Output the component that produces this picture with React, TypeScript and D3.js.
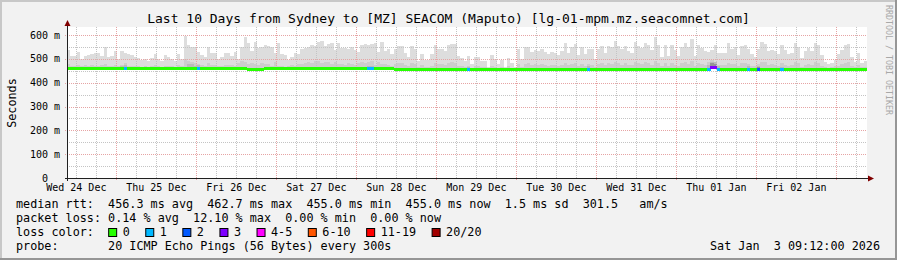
import React from 'react';
import * as d3 from 'd3';

const W = 897;
const H = 260;
const FONT = '"DejaVu Sans Mono", monospace';

const title = 'Last 10 Days from Sydney to [MZ] SEACOM (Maputo) [lg-01-mpm.mz.seacomnet.com]';
const startTime = new Date(2025, 11, 24, 9, 12);
const endTime = new Date(2026, 0, 3, 9, 12);
const yTicks = [0, 100, 200, 300, 400, 500, 600];
const yMinor = [50, 150, 250, 350, 450, 550];

// highest ping per hourly bin (ms)
const smokeTop = [
  537, 512, 512, 529, 498, 512, 515, 520, 523, 526,
  512, 548, 509, 512, 534, 498, 534, 523, 520, 518,
  509, 504, 495, 498, 492, 502, 520, 498, 492, 515,
  509, 498, 492, 520, 501, 596, 558, 551, 551, 529,
  515, 506, 548, 523, 523, 498, 506, 526, 523, 512,
  529, 498, 551, 590, 565, 534, 572, 544, 551, 558,
  554, 551, 526, 565, 520, 516, 495, 509, 526, 520,
  540, 544, 551, 558, 554, 572, 576, 554, 562, 565,
  537, 565, 544, 544, 540, 548, 537, 530, 558, 562,
  558, 562, 565, 530, 572, 534, 540, 520, 540, 554,
  554, 526, 509, 554, 540, 492, 520, 495, 495, 520,
  558, 540, 540, 534, 558, 562, 562, 512, 502, 492,
  512, 477, 509, 506, 492, 492, 467, 516, 498, 478,
  495, 467, 502, 481, 467, 540, 498, 548, 548, 530,
  537, 534, 540, 530, 520, 530, 526, 516, 534, 565,
  526, 548, 562, 516, 548, 520, 540, 540, 498, 540,
  554, 526, 554, 548, 576, 554, 540, 554, 534, 526,
  572, 554, 544, 568, 558, 537, 590, 558, 506, 558,
  512, 558, 537, 512, 551, 565, 548, 582, 512, 558,
  544, 534, 530, 537, 558, 526, 526, 526, 565, 540,
  548, 516, 554, 558, 540, 520, 509, 540, 572, 562,
  534, 537, 534, 520, 558, 537, 520, 526, 565, 551,
  502, 534, 544, 534, 565, 558, 516, 488, 478, 484,
  495, 520, 537, 558, 562, 509, 488, 526, 484, 492,
];

// inner (denser) part of the smoke per hourly bin (ms)
const smokeMid = [
  478, 470, 472, 475, 468, 474, 470, 476, 472, 469,
  473, 480, 471, 468, 476, 470, 474, 482, 472, 470,
  468, 471, 466, 470, 467, 469, 474, 468, 466, 472,
  470, 468, 466, 474, 471, 498, 490, 488, 484, 480,
  474, 470, 482, 475, 474, 468, 470, 476, 473, 475,
  468, 482, 490, 486, 478, 484, 480, 476, 482, 478,
  480, 472, 486, 470, 468, 466, 470, 474, 472, 478,
  480, 484, 486, 482, 490, 492, 484, 486, 488, 478,
  486, 480, 478, 476, 482, 478, 476, 484, 486, 484,
  488, 490, 476, 486, 478, 480, 476, 472, 478, 482,
  484, 474, 470, 482, 478, 466, 474, 467, 467, 472,
  484, 478, 478, 476, 482, 486, 484, 470, 468, 465,
  470, 462, 468, 468, 465, 466, 460, 470, 466, 462,
  466, 460, 468, 463, 460, 478, 466, 480, 482, 476,
  478, 476, 480, 476, 472, 476, 474, 470, 476, 484,
  474, 480, 484, 470, 480, 472, 478, 476, 466, 478,
  482, 474, 482, 480, 488, 482, 476, 482, 476, 474,
  486, 482, 478, 486, 484, 476, 492, 484, 468, 484,
  470, 484, 476, 470, 482, 486, 480, 490, 470, 484,
  478, 476, 486, 494, 488, 476, 474, 474, 484, 478,
  480, 470, 482, 484, 478, 472, 468, 480, 488, 486,
  476, 478, 476, 472, 484, 476, 472, 474, 486, 482,
  466, 476, 480, 476, 486, 484, 470, 464, 462, 464,
  468, 472, 478, 484, 486, 470, 464, 474, 464, 466,
];

// darker smoke patches: [bin, top ms]
const darkPatches: [number, number][] = [
  [16, 470], [17, 474], [36, 480], [37, 478], [38, 472], [39, 476],
  [90, 470], [91, 472], [120, 466], [156, 468], [192, 474], [193, 486],
  [194, 488], [195, 470], [204, 468], [207, 472], [214, 466],
];
const darkestPatches: [number, number][] = [[193, 482], [194, 480], [207, 467]];

// median rtt runs: [firstBin, lastBin, ms]
const medianRuns: [number, number, number][] = [
  [0, 53, 458], [54, 58, 455], [59, 97, 458], [98, 192, 455],
  [193, 194, 462.7], [195, 239, 455],
];
// packet loss events: [bin, lost pings]
const lossEvents: [number, number][] = [
  [17, 1], [39, 1], [90, 1], [91, 1], [120, 1], [156, 1], [192, 1],
  [193, 3], [194, 3], [195, 1], [204, 1], [207, 2], [214, 1],
];

const lossLabels = ['0', '1', '2', '3', '4-5', '6-10', '11-19', '20/20'];
const lossColors = ['#26ff00', '#00b8ff', '#0059ff', '#7e00ff', '#ff00ff', '#ff5500', '#ff0000', '#a10000'];

const legendRow1 = 'median rtt:  456.3 ms avg  462.7 ms max  455.0 ms min  455.0 ms now  1.5 ms sd  301.5   am/s';
const legendRow2 = 'packet loss: 0.14 % avg  12.10 % max  0.00 % min  0.00 % now';
const legendRow3 = 'loss color:';
const legendRow4 = 'probe:       20 ICMP Echo Pings (56 Bytes) every 300s';
const dateText = 'Sat Jan  3 09:12:00 2026';

const pre = (s: string) => s.replace(/ /g, '\u00a0');

function lossIndex(n: number) {
  if (n <= 3) return n;
  if (n <= 5) return 4;
  if (n <= 10) return 5;
  if (n <= 19) return 6;
  return 7;
}

export default function App() {
  const x = d3.scaleTime().domain([startTime, endTime]).range([67, 867]);
  const y = d3.scaleLinear().domain([0, 600]).range([178, 35]);
  const binStart = (i: number) => x(d3.timeHour.offset(startTime, i));
  const binEnd = (i: number) => x(d3.timeHour.offset(startTime, i + 1));

  const median: number[] = new Array(smokeTop.length).fill(455);
  medianRuns.forEach(([a, b, v]) => { for (let i = a; i <= b; i++) median[i] = v; });
  const loss: number[] = new Array(smokeTop.length).fill(0);
  lossEvents.forEach(([i, n]) => { loss[i] = n; });

  const grid6h = d3.timeHour.every(6)!.range(startTime, endTime);
  const dayLabels = d3.timeDay.range(d3.timeDay.floor(startTime), endTime)
    .map(d => d3.timeHour.offset(d, 12))
    .filter(d => d >= startTime && d <= endTime);
  const fmt = d3.timeFormat('%a %d %b');

  const cw = 7.09;
  const legendFs = 11.78;
  const boxes: { bx: number; tx: number; label: string; color: string }[] = [];
  let bx = 16 + 13 * cw;
  lossLabels.forEach((l, i) => {
    const tx = bx + 14.5;
    boxes.push({ bx, tx, label: l, color: lossColors[i] });
    bx = tx + l.length * cw + 15.5;
  });

  const canvasTop = 27;

  return (
    <svg width={W} height={H} style={{ position: 'absolute', left: 0, top: 0 }} xmlns="http://www.w3.org/2000/svg">
      <rect x={0} y={0} width={W} height={H} fill="#f2f2f2" />
      {/* 3d border */}
      <rect x={0} y={0} width={W} height={2} fill="#c8c8c8" />
      <rect x={0} y={0} width={2} height={H} fill="#c8c8c8" />
      <rect x={0} y={H - 2} width={W} height={2} fill="#969696" />
      <rect x={W - 2} y={0} width={2} height={H} fill="#969696" />

      <rect x={67} y={canvasTop} width={800} height={178 - canvasTop} fill="#ffffff" />

      {/* smoke */}
      <g shapeRendering="crispEdges">
        {smokeTop.map((v, i) => (
          <rect key={'t' + i} x={binStart(i)} width={binEnd(i) - binStart(i)}
            y={y(v)} height={y(median[i] - 1) - y(v)} fill="#dddddd" />
        ))}
        {smokeMid.map((v, i) => (
          <rect key={'m' + i} x={binStart(i)} width={binEnd(i) - binStart(i)}
            y={y(v)} height={y(median[i] - 1) - y(v)} fill="#cdcdcd" />
        ))}
        {darkPatches.map(([i, v]) => (
          <rect key={'d' + i} x={binStart(i)} width={binEnd(i) - binStart(i)}
            y={y(v)} height={y(median[i] - 1) - y(v)} fill="#bababa" />
        ))}
        {darkestPatches.map(([i, v]) => (
          <rect key={'dd' + i} x={binStart(i)} width={binEnd(i) - binStart(i)}
            y={y(v)} height={y(median[i] - 1) - y(v)} fill="#959595" />
        ))}
      </g>

      {/* grid */}
      <g>
        {yMinor.map(v => (
          <line key={'ym' + v} x1={67} x2={867} y1={Math.round(y(v)) + 0.5} y2={Math.round(y(v)) + 0.5}
            stroke="#c4c4c4" strokeDasharray="1,1" strokeWidth={1} />
        ))}
        {yTicks.filter(v => v > 0).map(v => (
          <line key={'yM' + v} x1={65} x2={867} y1={Math.round(y(v)) + 0.5} y2={Math.round(y(v)) + 0.5}
            stroke="#e6a4a4" strokeDasharray="1,1" strokeWidth={1} />
        ))}
        {grid6h.map(t => {
          const major = t.getHours() === 0;
          const xx = Math.round(x(t)) + 0.5;
          return (
            <line key={'xg' + t.getTime()} x1={xx} x2={xx} y1={canvasTop} y2={major ? 181 : 178}
              stroke={major ? '#e6a4a4' : '#c4c4c4'} strokeDasharray="1,1" strokeWidth={1} />
          );
        })}
      </g>

      {/* median line coloured by loss */}
      <g shapeRendering="crispEdges">
        {median.map((v, i) => (
          <rect key={'md' + i} x={binStart(i)} width={binEnd(i) - binStart(i) + 0.2}
            y={y(v) - 1.5} height={3} fill={lossColors[lossIndex(loss[i])]} />
        ))}
      </g>

      {/* axes */}
      <line x1={67.5} x2={67.5} y1={181} y2={24} stroke="#202020" strokeWidth={1} />
      <path d="M67.5,20 L64.5,26 L70.5,26 Z" fill="#800000" />
      <line x1={65} x2={869} y1={178.5} y2={178.5} stroke="#202020" strokeWidth={1} />
      <path d="M874,178.5 L868,175.5 L868,181.5 Z" fill="#800000" />

      {/* title */}
      <text x={448.5} y={23} textAnchor="middle" fontFamily={FONT} fontSize={13} fill="#000">{title}</text>

      {/* y tick labels */}
      {yTicks.map(v => (
        <text key={'yl' + v} x={60} y={y(v) + 3.6} textAnchor="end" fontFamily={FONT} fontSize={10}
          fill="#000">{pre(v === 0 ? '0  ' : `${v} m`)}</text>
      ))}
      <text transform="translate(15.5,103) rotate(-90)" textAnchor="middle" fontFamily={FONT} fontSize={legendFs} fill="#000">Seconds</text>

      {/* x labels */}
      {dayLabels.map(d => (
        <text key={'xl' + d.getTime()} x={x(d)} y={190.5} textAnchor="middle" fontFamily={FONT} fontSize={10} fill="#000">{fmt(d)}</text>
      ))}

      {/* legend */}
      <g fontFamily={FONT} fontSize={legendFs} fill="#000">
        <text x={16} y={207.6}>{pre(legendRow1)}</text>
        <text x={16} y={221.6}>{pre(legendRow2)}</text>
        <text x={16} y={235.6}>{pre(legendRow3)}</text>
        {boxes.map(b => (
          <g key={'lg' + b.label}>
            <rect x={b.bx + 0.5} y={228.5} width={8} height={8} fill={b.color} stroke="#000" strokeWidth={1} />
            <text x={b.tx} y={235.6}>{b.label}</text>
          </g>
        ))}
        <text x={16} y={249.6}>{pre(legendRow4)}</text>
        <text x={880} y={249.6} textAnchor="end">{pre(dateText)}</text>
      </g>

      {/* watermark */}
      <text transform="translate(885.5,5) rotate(90)" fontFamily={FONT} fontSize={8.3} fill="#a8a8a8">RRDTOOL / TOBI OETIKER</text>
    </svg>
  );
}
